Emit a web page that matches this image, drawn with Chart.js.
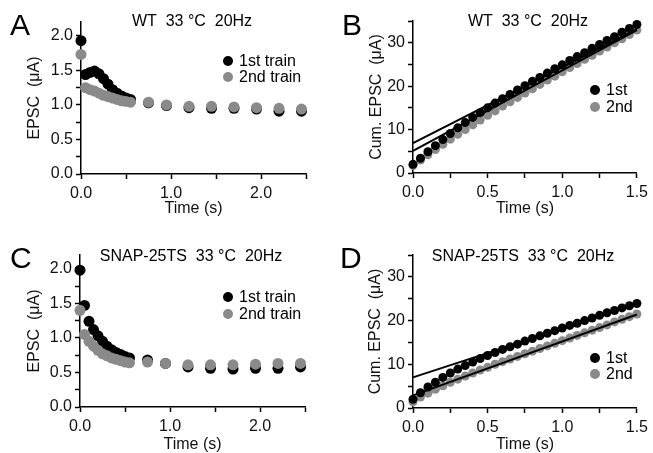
<!DOCTYPE html>
<html>
<head>
<meta charset="utf-8">
<script src="https://cdn.jsdelivr.net/npm/chart.js@4.4.1/dist/chart.umd.min.js"></script>
<style>
  html, body { margin: 0; padding: 0; background: #fff; }
  #wrap { position: relative; width: 653px; height: 453px; overflow: hidden; }
  canvas { position: absolute; }
</style>
</head>
<body>
<div id="wrap">
  <canvas id="cA" width="326" height="226" style="left:0;top:0"></canvas>
  <canvas id="cB" width="327" height="226" style="left:326px;top:0"></canvas>
  <canvas id="cC" width="326" height="227" style="left:0;top:226px"></canvas>
  <canvas id="cD" width="327" height="227" style="left:326px;top:226px"></canvas>
</div>
<script>
// stimulus times of the trains (s)
const trainTimes = [0, 0.05, 0.1, 0.15, 0.2, 0.25, 0.3, 0.35, 0.4, 0.45, 0.5, 0.55,
                    0.75, 0.95, 1.2, 1.45, 1.7, 1.95, 2.2, 2.45]

// EPSC amplitudes (uA)
const wt1st = [1.93, 1.44, 1.47, 1.49, 1.45, 1.38, 1.3, 1.22, 1.17, 1.13, 1.1, 1.08,
               1.03, 0.99, 0.96, 0.95, 0.95, 0.94, 0.91, 0.91]
const wt2nd = [1.73, 1.25, 1.22, 1.2, 1.17, 1.14, 1.12, 1.1, 1.08, 1.06, 1.05, 1.04,
               1.04, 1.0, 0.98, 0.98, 0.97, 0.96, 0.95, 0.94]
const ts1st = [1.98, 1.47, 1.24, 1.12, 1.03, 0.95, 0.88, 0.83, 0.79, 0.76, 0.73, 0.71,
               0.68, 0.63, 0.58, 0.56, 0.55, 0.56, 0.56, 0.58]
const ts2nd = [1.4, 1.05, 0.95, 0.88, 0.82, 0.77, 0.74, 0.71, 0.69, 0.67, 0.65, 0.64,
               0.65, 0.63, 0.61, 0.61, 0.61, 0.62, 0.63, 0.63]

// cumulative EPSC (uA) vs time (s)
const cumTimes = [0, 0.05, 0.1, 0.15, 0.2, 0.25, 0.3, 0.35, 0.4, 0.45, 0.5, 0.55, 0.6, 0.65, 0.7, 0.75,
                  0.8, 0.85, 0.9, 0.95, 1.0, 1.05, 1.1, 1.15, 1.2, 1.25, 1.3, 1.35, 1.4, 1.45, 1.5]
const wtCum1st = [2.0, 3.4, 4.9, 6.3, 7.7, 9.1, 10.4, 11.6, 12.8, 13.9, 15.0, 16.1, 17.1, 18.1, 19.1, 20.1,
                  21.1, 22.0, 23.0, 24.0, 24.9, 25.9, 26.8, 27.7, 28.7, 29.6, 30.5, 31.4, 32.4, 33.3, 34.2]
const wtCum2nd = [1.7, 3.0, 4.2, 5.4, 6.6, 7.8, 8.9, 10.0, 11.1, 12.2, 13.3, 14.3, 15.4, 16.4, 17.4, 18.4,
                  19.4, 20.4, 21.4, 22.3, 23.3, 24.3, 25.2, 26.2, 27.1, 28.1, 29.0, 30.0, 30.9, 31.9, 32.9]
const tsCum1st = [2.0, 3.5, 4.8, 5.9, 7.0, 8.0, 8.9, 9.7, 10.5, 11.3, 12.0, 12.7, 13.4, 14.0, 14.6, 15.3,
                  15.9, 16.5, 17.1, 17.7, 18.3, 18.9, 19.4, 20.0, 20.6, 21.2, 21.8, 22.3, 22.9, 23.4, 23.9]
const tsCum2nd = [1.4, 2.5, 3.4, 4.3, 5.1, 5.9, 6.6, 7.3, 8.0, 8.7, 9.3, 10.0, 10.6, 11.2, 11.8, 12.4,
                  13.0, 13.6, 14.2, 14.8, 15.4, 16.0, 16.6, 17.2, 17.8, 18.4, 19.0, 19.7, 20.3, 20.9, 21.5]

// linear fits (end points)
const fitTimes = [0, 1.5]
const wtFit1st = [6.9, 33.1]
const wtFit2nd = [5.1, 32.9]
const tsFit1st = [7.0, 23.7]
const tsFit2nd = [2.9, 21.4]

const BLACK = '#000000'
const GRAY = '#8a8a8a'
const FONT = 'Liberation Sans, Arial, Helvetica, sans-serif'

function pts(xs, ys) {
    return xs.map((x, i) => ({ x: x, y: ys[i] }))
}

// letter, title and legend drawn on top
const panelText = {
    id: 'panelText',
    afterDraw(chart, args, o) {
        const ctx = chart.ctx
        ctx.save()
        ctx.fillStyle = '#000'
        ctx.textBaseline = 'alphabetic'
        ctx.textAlign = 'left'
        ctx.font = '30px ' + FONT
        ctx.fillText(o.letter, o.lx, o.ly)

        ctx.font = '16px ' + FONT
        ctx.textAlign = 'center'
        ctx.textBaseline = 'middle'
        ctx.fillText(o.title, o.tx, o.ty)

        ctx.textAlign = 'left'
        o.legend.forEach(l => {
            ctx.fillStyle = l.color
            ctx.beginPath()
            ctx.arc(l.x, l.y, 5, 0, Math.PI * 2)
            ctx.fill()
            ctx.fillStyle = '#000'
            ctx.fillText(l.label, l.x + 11, l.y + 1)
        })
        ctx.restore()
    }
}

function axisX(max, step, labelEvery, box, titlePad) {
    return {
        type: 'linear', min: 0, max: max,
        afterFit: s => { s.height = box },
        border: { color: '#000', width: 1.5 },
        grid: { drawOnChartArea: false, drawTicks: true, tickLength: 5, tickColor: '#000', tickWidth: 1.5 },
        ticks: {
            stepSize: step, includeBounds: false, autoSkip: false, maxRotation: 0, padding: 5,
            color: '#111', font: { family: FONT, size: 16 },
            callback: v => Math.abs(v / labelEvery - Math.round(v / labelEvery)) < 1e-6 ? v.toFixed(1) : ''
        },
        title: { display: true, text: 'Time (s)', color: '#111', font: { family: FONT, size: 16, lineHeight: 1 },
                 padding: { top: 0, bottom: titlePad } }
    }
}

function axisY(max, step, labelEvery, digits, box, title, titlePad) {
    return {
        type: 'linear', min: 0, max: max,
        afterFit: s => { s.width = box },
        border: { color: '#000', width: 1.5 },
        grid: { drawOnChartArea: false, drawTicks: true, tickLength: 5, tickColor: '#000', tickWidth: 1.5 },
        ticks: {
            stepSize: step, includeBounds: false, autoSkip: false, padding: 3,
            color: '#111', font: { family: FONT, size: 16 },
            callback: v => Math.abs(v / labelEvery - Math.round(v / labelEvery)) < 1e-6 ? v.toFixed(digits) : ''
        },
        title: { display: true, text: title, color: '#111', font: { family: FONT, size: 16, lineHeight: 1 },
                 padding: { top: titlePad, bottom: 0 } }
    }
}

function dots(data, color, r) {
    return { type: 'scatter', data: data, pointRadius: r, pointHoverRadius: r, pointBorderWidth: 0,
             backgroundColor: color, borderColor: color, clip: false }
}

function fitLine(data) {
    return { type: 'scatter', data: data, showLine: true, pointRadius: 0, borderColor: '#000',
             borderWidth: 2, clip: false }
}

function makeChart(id, datasets, x, y, pad, text) {
    new Chart(document.getElementById(id), {
        type: 'scatter',
        data: { datasets: datasets },
        options: {
            responsive: false, animation: false, devicePixelRatio: 1,
            layout: { padding: pad },
            plugins: { legend: { display: false }, tooltip: { enabled: false }, panelText: text },
            scales: { x: x, y: y }
        },
        plugins: [panelText]
    })
}

// A: WT amplitudes (gray drawn over black)
makeChart('cA',
    [dots(pts(trainTimes, wt2nd), GRAY, 5.5), dots(pts(trainTimes, wt1st), BLACK, 5.5)],
    axisX(2.5, 0.5, 1, 52, 9),
    axisY(2.2, 0.25, 0.5, 1, 81, 'EPSC  (\u03bcA)', 27),
    { left: 0, right: 20, top: 22, bottom: 0 },
    { letter: 'A', lx: 10, ly: 35, title: 'WT  33 \u00b0C  20Hz', tx: 192, ty: 22,
      legend: [{ label: '1st train', color: BLACK, x: 228, y: 61 }, { label: '2nd train', color: GRAY, x: 228, y: 77 }] })

// B: WT cumulative
makeChart('cB',
    [fitLine(pts(fitTimes, wtFit1st)), fitLine(pts(fitTimes, wtFit2nd)),
     dots(pts(cumTimes, wtCum1st), BLACK, 4.5), dots(pts(cumTimes, wtCum2nd), GRAY, 4.5)],
    axisX(1.5, 0.25, 0.5, 53, 9),
    axisY(35, 5, 10, 0, 87, 'Cum. EPSC  (\u03bcA)', 43),
    { left: 0, right: 15, top: 21, bottom: 0 },
    { letter: 'B', lx: 16, ly: 35, title: 'WT  33 \u00b0C  20Hz', tx: 202, ty: 22,
      legend: [{ label: '1st', color: BLACK, x: 269, y: 90 }, { label: '2nd', color: GRAY, x: 269, y: 107 }] })

// C: SNAP-25TS amplitudes
makeChart('cC',
    [dots(pts(trainTimes, ts2nd), GRAY, 5.5), dots(pts(trainTimes, ts1st), BLACK, 5.5)],
    axisX(2.5, 0.5, 1, 46, 0),
    axisY(2.2, 0.25, 0.5, 1, 80, 'EPSC  (\u03bcA)', 27),
    { left: 0, right: 21, top: 29, bottom: 0 },
    { letter: 'C', lx: 10, ly: 42, title: 'SNAP-25TS  33 \u00b0C  20Hz', tx: 191, ty: 31,
      legend: [{ label: '1st train', color: BLACK, x: 228, y: 71 }, { label: '2nd train', color: GRAY, x: 228, y: 88 }] })

// D: SNAP-25TS cumulative
makeChart('cD',
    [fitLine(pts(fitTimes, tsFit1st)), fitLine(pts(fitTimes, tsFit2nd)),
     dots(pts(cumTimes, tsCum1st), BLACK, 4.5), dots(pts(cumTimes, tsCum2nd), GRAY, 4.5)],
    axisX(1.5, 0.25, 0.5, 45, 0),
    axisY(35, 5, 10, 0, 87, 'Cum. EPSC  (\u03bcA)', 42),
    { left: 0, right: 15, top: 29, bottom: 0 },
    { letter: 'D', lx: 14, ly: 42, title: 'SNAP-25TS  33 \u00b0C  20Hz', tx: 197, ty: 31,
      legend: [{ label: '1st', color: BLACK, x: 269, y: 132 }, { label: '2nd', color: GRAY, x: 269, y: 148 }] })
</script>
</body>
</html>
